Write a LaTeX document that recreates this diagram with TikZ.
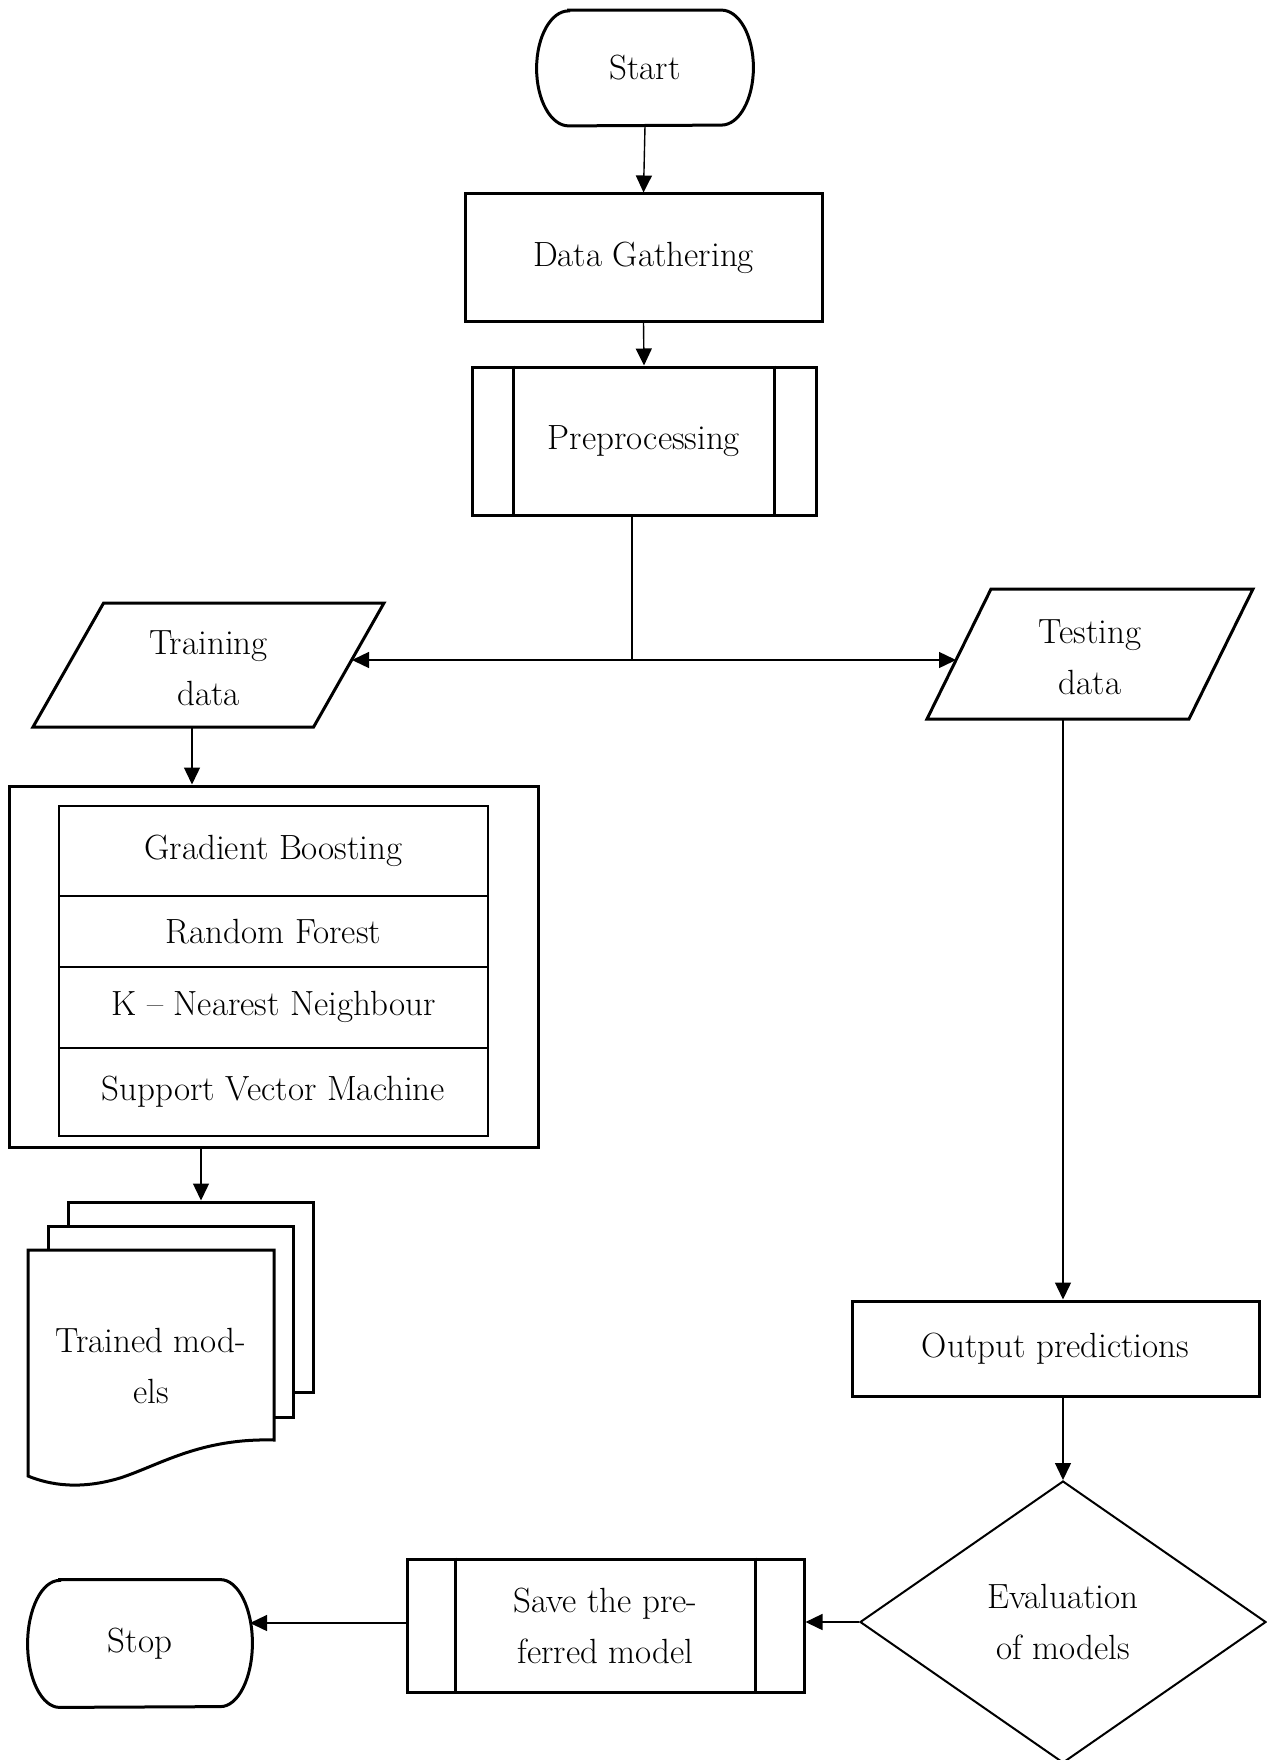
\documentclass[tikz,border=0pt]{standalone}
\usetikzlibrary{arrows.meta,shapes.geometric,calc}
\begin{document}
\begin{tikzpicture}[x=0.5pt,y=-0.5pt,
  font=\fontsize{17.5}{25.5}\selectfont,
  box/.style={draw,line width=1.5pt,fill=white,inner sep=0pt,align=center},
  inbox/.style={draw,line width=1pt,fill=white,inner sep=0pt,minimum width=214.5pt},
  outl/.style={line width=1.5pt},
  conn/.style={line width=0.7pt},
  arr/.style={conn,-{Triangle[length=8.5pt,width=8pt]}},
]
\useasboundingbox (0,0) rectangle (1266,1760);

% Start terminal
\node[inner sep=0pt, minimum width=108pt, minimum height=57.5pt] (start) at (645,68) {Start};
\draw[outl] ([xshift=16pt]start.north west) -- ([xshift=-16pt]start.north east)
  arc[start angle=90,end angle=-90,x radius=16pt,y radius=28.75pt]
  -- ([xshift=16pt]start.south west)
  arc[start angle=270,end angle=90,x radius=16pt,y radius=28.75pt] -- cycle;

% Data Gathering
\node[box, minimum width=178.5pt, minimum height=63.5pt] (dg) at (643.5,257.5) {Data Gathering};

% Preprocessing
\node[box, minimum width=172pt, minimum height=74pt] (prep) at (644,441) {Preprocessing};
\draw[line width=1.2pt] ([xshift=21.5pt]prep.north west) -- ([xshift=21.5pt]prep.south west);
\draw[line width=1.2pt] ([xshift=-21.5pt]prep.north east) -- ([xshift=-21.5pt]prep.south east);

\draw[arr] (start.south) -- (dg.north);
\draw[arr] (dg.south) -- (prep.north);

% junction
\coordinate (jn) at (632,660);
\draw[conn] (prep.south -| jn) -- (jn);

% Training data
\node[align=center, inner sep=0pt] (train) at (208.5,668) {Training\\data};
\draw[outl] (103.6,603) -- (384,603) -- (313.6,727) -- (33,727) -- cycle;
\coordinate (trIn) at (352,660);
\coordinate (trOut) at (192,727);
\draw[arr] (jn) -- (trIn);

% Testing data
\node[align=center, inner sep=0pt] (test) at (1090,657) {Testing\\data};
\draw[outl] (991,589) -- (1253,589) -- (1189,719) -- (927,719) -- cycle;
\coordinate (teIn) at (956,660);
\coordinate (teOut) at (1063,719);
\draw[arr] (jn) -- (teIn);

% Algorithms box
\node[box, minimum width=264.5pt, minimum height=180.5pt] (algo) at (273.5,966.5) {};
\draw[arr] (trOut) -- (trOut |- algo.north);
\node[inbox, minimum height=45pt] (gb) at (273.5,851) {Gradient Boosting};
\node[inbox, minimum height=35.3pt] (rf) at (273.5,931.3) {Random Forest};
\node[inbox, minimum height=40.7pt] (knn) at (273.5,1007.3) {K \textendash{} Nearest Neighbour};
\node[inbox, minimum height=44pt] (svm) at (273.5,1092) {Support Vector Machine};

% Trained models (multi-document)
\node[draw, line width=1.5pt, fill=white, inner sep=0pt, minimum width=122.5pt, minimum height=95pt] (doc3) at (190.5,1297) {};
\node[draw, line width=1.5pt, fill=white, inner sep=0pt, minimum width=122.5pt, minimum height=95.5pt] (doc2) at (170.5,1321.5) {};
\draw[outl, fill=white] (28,1250) -- (274,1250) -- (274,1440)
  .. controls (200,1438) and (160,1465) .. (120,1478)
  .. controls (80,1490) and (50,1485) .. (28,1476) -- cycle;
\node[align=center, inner sep=0pt] (models) at (151,1366) {Trained mod-\\els};
\coordinate (ax) at (201,0);
\draw[arr] (algo.south -| ax) -- (doc3.north -| ax);

% Output predictions
\node[box, minimum width=203.5pt, minimum height=47.5pt] (out) at (1055.5,1348.5) {Output predictions};
\draw[arr] (teOut) -- (teOut |- out.north);

% Evaluation diamond
\node[draw, diamond, line width=1pt, minimum width=203pt, minimum height=141pt, inner sep=0pt, align=center] (eval) at (1063,1622) {Evaluation\\of models};
\draw[arr] (out.south -| teOut) -- (eval.north);

% Save the preferred model
\node[box, minimum width=198.5pt, minimum height=66.5pt] (save) at (605.5,1625.5) {Save the pre-\\ferred model};
\draw[line width=1.2pt] ([xshift=25pt]save.north west) -- ([xshift=25pt]save.south west);
\draw[line width=1.2pt] ([xshift=-25pt]save.north east) -- ([xshift=-25pt]save.south east);
\draw[arr] (eval.west) -- (eval.west -| save.east);

% Stop terminal
\node[inner sep=0pt, minimum width=112pt, minimum height=63.5pt] (stop) at (140,1643.5) {Stop};
\draw[outl] ([xshift=16pt]stop.north west) -- ([xshift=-16pt]stop.north east)
  arc[start angle=90,end angle=-90,x radius=16pt,y radius=31.75pt]
  -- ([xshift=16pt]stop.south west)
  arc[start angle=270,end angle=90,x radius=16pt,y radius=31.75pt] -- cycle;
\coordinate (stIn) at (250,1623);
\draw[arr] (save.west |- stIn) -- (stIn);
\end{tikzpicture}
\end{document}
